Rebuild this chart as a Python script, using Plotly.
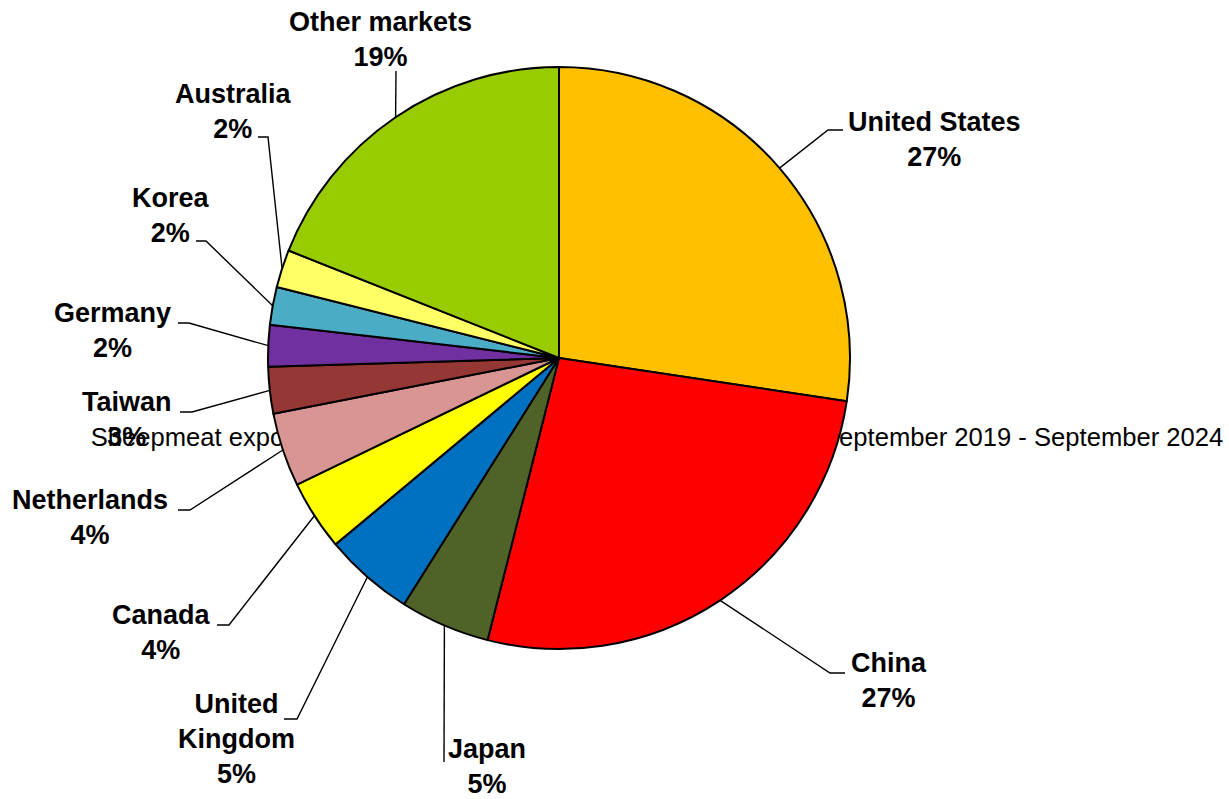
import math
import plotly.graph_objects as go

# ---- data ----
markets = ["United States", "China", "Japan", "United Kingdom", "Canada",
           "Netherlands", "Taiwan", "Germany", "Korea", "Australia", "Other markets"]
label_names = ["United States", "China", "Japan", "United<br>Kingdom", "Canada",
               "Netherlands", "Taiwan", "Germany", "Korea", "Australia", "Other markets"]
shares = [27.4, 26.6, 5.0, 5.0, 3.9, 4.1, 2.6, 2.3, 2.1, 2.1, 19.0]
colors = ["#FFC000", "#FF0000", "#4F6228", "#0070C0", "#FFFF00",
          "#D99594", "#953735", "#7030A0", "#4BACC6", "#FFFF66", "#99CC00"]
title_text = "Sheepmeat exports by destination, share of total export volume, September 2019 - September 2024"

# ---- layout geometry (pixels) ----
W, H = 1229, 799
CX, CY, R = 559, 358, 291
# label block centres
label_xy = [(934, 139), (889, 680), (487, 766), (236, 739), (161, 632),
            (90, 517), (127, 419), (112, 330), (171, 215), (233, 111), (380, 39)]
# leader line elbow and end points
leader_pts = [((828, 130), (843, 130)), ((830, 673), (845, 673)), ((444, 762), None),
              ((297, 719), (284, 719)), ((229, 625), (217, 625)), ((190, 510), (178, 510)),
              ((192, 412), (180, 412)), ((189, 323), (178, 323)), ((206, 241), (196, 241)),
              ((268, 137), (258, 137)), ((396, 71), None)]

FONT = "Liberation Sans, Arial, sans-serif"

fig = go.Figure()

# title text (drawn beneath the pie)
fig.add_trace(go.Scatter(
    x=[657], y=[440], mode="text", text=[title_text],
    textposition="middle center",
    textfont=dict(family=FONT, size=25.6, color="black"),
    hoverinfo="skip", showlegend=False))

fig.add_trace(go.Pie(
    labels=markets, values=shares, sort=False, direction="clockwise", rotation=0,
    marker=dict(colors=colors, line=dict(color="black", width=2)),
    textinfo="none", showlegend=False,
    domain=dict(x=[(CX - R) / W, (CX + R) / W],
                y=[(H - CY - R) / H, (H - CY + R) / H])))

total = sum(shares)
shapes = []
annotations = []
cum = 0.0
for i, v in enumerate(shares):
    mid = (cum + v / 2) / total * 360.0
    cum += v
    th = math.radians(mid)
    sx = CX + R * math.sin(th)
    sy = CY - R * math.cos(th)
    (ex, ey), stub = leader_pts[i]
    path = f"M {sx:.1f},{sy:.1f} L {ex},{ey}"
    if stub is not None:
        path += f" L {stub[0]},{stub[1]}"
    shapes.append(dict(type="path", path=path, xref="x", yref="y",
                       line=dict(color="black", width=1.4), layer="above"))
    pct = round(v / total * 100)
    lx, ly = label_xy[i]
    annotations.append(dict(
        x=lx, y=ly, xref="x", yref="y", showarrow=False,
        text=f"<b>{label_names[i]}<br>{pct}%</b>",
        xanchor="center", yanchor="middle", align="center",
        font=dict(family=FONT, size=27, color="black")))

fig.update_layout(
    width=W, height=H,
    margin=dict(l=0, r=0, t=0, b=0, pad=0),
    paper_bgcolor="white", plot_bgcolor="white",
    showlegend=False,
    xaxis=dict(range=[0, W], visible=False, fixedrange=True),
    yaxis=dict(range=[H, 0], visible=False, fixedrange=True),
    shapes=shapes, annotations=annotations)

fig.write_html("out.html",
               config={"displayModeBar": False, "staticPlot": True},
               post_script="document.body.style.margin='0';document.body.style.overflow='hidden';")
